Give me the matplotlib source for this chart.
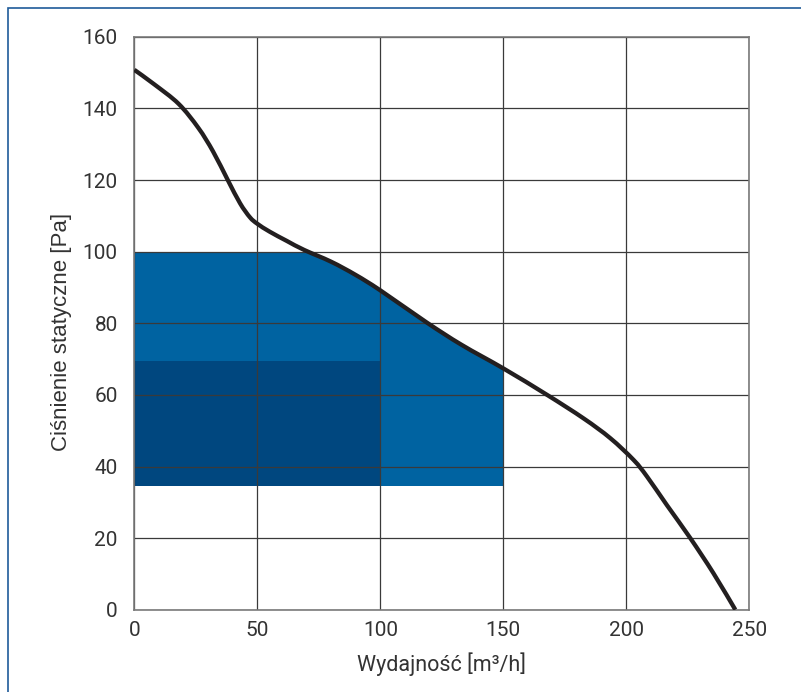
import matplotlib
matplotlib.use("Agg")
import matplotlib.pyplot as plt
from matplotlib.patches import Rectangle, PathPatch
from matplotlib.path import Path
import numpy as np

plt.rcParams['font.family'] = ['Roboto', 'DejaVu Sans']

# Fan curve (x: flow m3/h, y: static pressure Pa)
curve_x = [0, 8, 18, 26, 32, 38, 43, 47, 50, 55, 62, 69, 80, 90, 100,
           118.7, 133, 150, 167.8, 182.7, 193.5, 203, 208.4, 216.5, 226,
           235.4, 244.3]
curve_y = [150.8, 146.8, 141.3, 134.6, 128, 120, 113.5, 109.6, 107.8, 105.6,
           103, 100.5, 97.2, 93.5, 89.2, 80.3, 74, 67.4, 60, 53.4, 47.9, 41.8,
           37.2, 29.2, 20, 10.2, 0]

# Operating ranges
light_x = [0, 150]
light_y = [34.5, 100]
dark_x = [0, 100]
dark_y = [34.5, 69.5]

x_ticks = [0, 50, 100, 150, 200, 250]
y_ticks = [0, 20, 40, 60, 80, 100, 120, 140, 160]

LIGHT = '#0063A1'
DARK = '#00477F'
TEXT = '#333333'


def smooth_path_verts(xs, ys):
    """Catmull-Rom through the read points, expressed as cubic Bezier segments."""
    p = np.column_stack([xs, ys]).astype(float)
    n = len(p)
    verts = [p[0]]
    codes = [Path.MOVETO]
    for i in range(n - 1):
        p0 = p[i - 1] if i > 0 else p[i]
        p1 = p[i]
        p2 = p[i + 1]
        p3 = p[i + 2] if i + 2 < n else p[i + 1]
        c1 = p1 + (p2 - p0) / 6.0
        c2 = p2 - (p3 - p1) / 6.0
        verts += [c1, c2, p2]
        codes += [Path.CURVE4] * 3
    return verts, codes


fig = plt.figure(figsize=(8.01, 6.92), dpi=100)
ax = fig.add_axes([0.1677, 0.1189, 0.9355 - 0.1677, 0.9467 - 0.1189])

verts, codes = smooth_path_verts(curve_x, curve_y)

# light range: area under the curve, clipped to its rectangle
area_verts = verts + [(curve_x[-1], light_y[0]), (curve_x[0], light_y[0]), verts[0]]
area_codes = codes + [Path.LINETO, Path.LINETO, Path.CLOSEPOLY]
area = PathPatch(Path(area_verts, area_codes), facecolor=LIGHT, lw=0, zorder=1)
ax.add_patch(area)
clip = Rectangle((light_x[0], light_y[0]), light_x[1] - light_x[0],
                 light_y[1] - light_y[0], transform=ax.transData,
                 facecolor='none', lw=0)
area.set_clip_path(clip)

ax.add_patch(Rectangle((dark_x[0], dark_y[0]), dark_x[1] - dark_x[0],
                       dark_y[1] - dark_y[0], color=DARK, lw=0, zorder=2.5))

ax.add_patch(PathPatch(Path(verts, codes), facecolor='none',
                       edgecolor='#231f20', lw=3.1, zorder=4,
                       capstyle='butt', joinstyle='round'))

ax.set_xlim(0, 250)
ax.set_ylim(0, 160)
ax.set_xticks(x_ticks)
ax.set_yticks(y_ticks)
ax.grid(True, color='#3a3a3a', lw=0.9)
ax.set_axisbelow(False)
for gl in ax.get_xgridlines() + ax.get_ygridlines():
    gl.set_zorder(2)

for s in ax.spines.values():
    s.set_color('#7a7a7a')
    s.set_linewidth(1.2)
    s.set_zorder(3)

ax.tick_params(axis='both', length=0, labelsize=15, labelcolor=TEXT)
ax.tick_params(axis='y', pad=12)
ax.tick_params(axis='x', pad=8)

ax.set_xlabel('Wydajność [m³/h]', fontsize=15.5, color=TEXT, labelpad=9)
ax.set_ylabel('Ciśnienie statyczne [Pa]', fontsize=16, color=TEXT,
              family=['Liberation Sans', 'DejaVu Sans'])
ax.yaxis.set_label_coords(-0.101, 0.485)

# Frame border around figure (left and top visible)
fig.patches.append(Rectangle((7.5 / 801, -0.1), 1.2, 1 - 7.5 / 692 + 0.1,
                             transform=fig.transFigure, fill=False,
                             edgecolor='#1f5b9a', lw=1.2, figure=fig))

fig.savefig('out.png', dpi=100)
